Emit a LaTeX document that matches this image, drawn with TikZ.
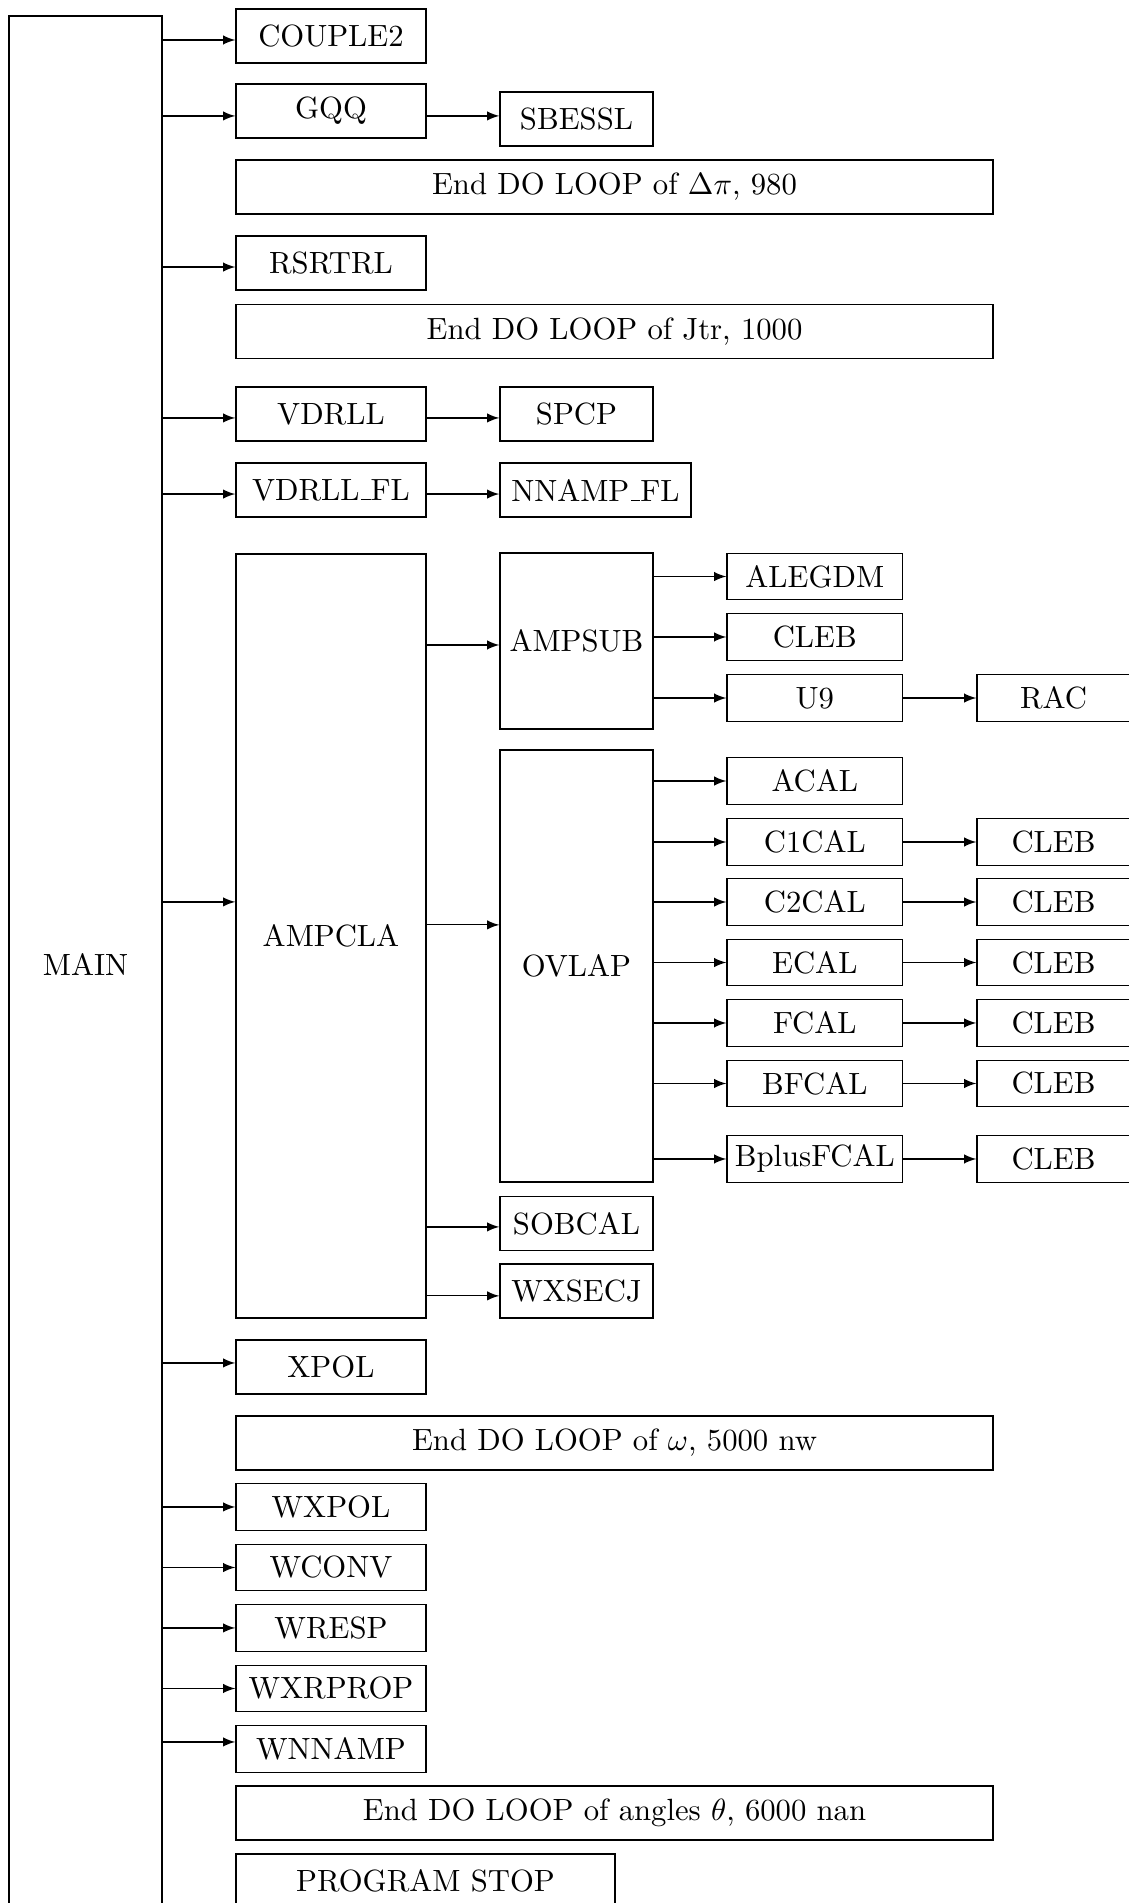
\documentclass[tikz,border=0pt]{standalone}
\newcommand\uscore{\leavevmode\kern.06em\vbox{\hrule width.3em}}
\begin{document}
\begin{tikzpicture}[
    box/.style={draw, inner sep=1pt, minimum height=0.618cm},
    lowbox/.style={draw, inner sep=1pt, minimum height=0.532cm},
    arr/.style={-latex}
  ]
    % Рамка
    \useasboundingbox (0,0) rectangle (12.925,-21.786);
    \clip (0,0) rectangle (12.925,-21.786);
    % Главная программа
    \node[box, minimum width=1.752cm, minimum height=21.728cm] (main) at (0.979,-11.047) {MAIN};
    % Второй столбец
    \node[box, minimum width=2.175cm] (couple) at (3.789,-0.412) {COUPLE2};
    \node[box, minimum width=2.175cm] (gqq) at (3.789,-1.271) {GQQ};
    \node[box, minimum width=8.666cm] (loopdpi) at (7.035,-2.141) {End DO LOOP of $\Delta\pi$, 980};
    \node[box, minimum width=2.175cm] (rsrtrl) at (3.789,-3.011) {RSRTRL};
    \node[box, minimum width=8.666cm] (loopjtr) at (7.035,-3.795) {End DO LOOP of Jtr, 1000};
    \node[box, minimum width=2.175cm] (vdrll) at (3.789,-4.739) {VDRLL};
    \node[box, minimum width=2.175cm] (vdrllfl) at (3.789,-5.610) {VDRLL\uscore FL};
    \node[box, minimum width=2.175cm, minimum height=8.746cm] (ampcla) at (3.789,-10.715) {AMPCLA};
    \node[box, minimum width=2.175cm] (xpol) at (3.789,-15.649) {XPOL};
    \node[box, minimum width=8.666cm] (loopw) at (7.035,-16.519) {End DO LOOP of $\omega$, 5000 nw};
    \foreach \n/\t/\y in {wxpol/WXPOL/-17.252, wconv/WCONV/-17.945, wresp/WRESP/-18.637,
                          wxrprop/WXRPROP/-19.330, wnnamp/WNNAMP/-20.023}
      \node[lowbox, minimum width=2.175cm] (\n) at (3.789,\y) {\t};
    \node[box, minimum width=8.666cm] (looptheta) at (7.035,-20.755) {End DO LOOP of angles $\theta$, 6000 nan};
    \node[box, minimum width=4.339cm] (stop) at (4.871,-21.534) {PROGRAM STOP};
    % Третий столбец
    \node[box, minimum width=1.752cm] (sbessl) at (6.600,-1.362) {SBESSL};
    \node[box, minimum width=1.752cm] (spcp) at (6.600,-4.739) {SPCP};
    \node[box, minimum width=2.187cm] (nnampfl) at (6.817,-5.610) {NNAMP\uscore FL};
    \node[box, minimum width=1.752cm, minimum height=2.015cm] (ampsub) at (6.600,-7.338) {AMPSUB};
    \node[box, minimum width=1.752cm, minimum height=4.946cm] (ovlap) at (6.600,-11.059) {OVLAP};
    \node[box, minimum width=1.752cm] (sobcal) at (6.600,-14.007) {SOBCAL};
    \node[box, minimum width=1.752cm] (wxsecj) at (6.600,-14.779) {WXSECJ};
    % Четвёртый и пятый столбцы
    \node[lowbox, minimum width=2.010cm] (alegdm) at (9.328,-6.600) {ALEGDM};
    \node[lowbox, minimum width=2.010cm] (clebsub) at (9.328,-7.292) {CLEB};
    \node[lowbox, minimum width=2.010cm] (u9) at (9.328,-7.991) {U9};
    \node[lowbox, minimum width=1.752cm] (rac) at (12.061,-7.991) {RAC};
    \node[lowbox, minimum width=2.010cm] (acal) at (9.328,-8.941) {ACAL};
    \foreach \n/\t/\y in {c1cal/C1CAL/-9.639, c2cal/C2CAL/-10.326, ecal/ECAL/-11.019,
                          fcal/FCAL/-11.711, bfcal/BFCAL/-12.404, bpfcal/BplusFCAL/-13.268} {
      \node[lowbox, minimum width=2.010cm] (\n) at (9.328,\y) {\t};
      \node[lowbox, minimum width=1.752cm] (cleb\n) at (12.061,\y) {CLEB};
      \draw[arr] (ovlap.east |- \n.west) -- (\n.west);
      \draw[arr] (\n.east) -- (cleb\n.west);
    }
    % Стрелки из MAIN
    \foreach \n/\s in {couple/-1.3, gqq/-1.6, rsrtrl/-1.3, vdrll/-1.3, vdrllfl/-1.3, ampcla/11.1,
                       xpol/1.3, wxpol/0, wconv/0, wresp/0, wxrprop/0, wnnamp/2.3} {
      \coordinate (tip) at ([yshift=\s pt]\n.west);
      \draw[arr] (main.east |- tip) -- (tip);
    }
    % Стрелки к третьему столбцу
    \foreach \a/\b/\s in {gqq/sbessl/1.0, vdrll/spcp/-1.3, vdrllfl/nnampfl/-1.3, ampcla/ampsub/-1.3,
                          ampcla/ovlap/13.4, ampcla/sobcal/-1.1, ampcla/wxsecj/-1.6} {
      \coordinate (tip) at ([yshift=\s pt]\b.west);
      \draw[arr] (\a.east |- tip) -- (tip);
    }
    % Стрелки к четвёртому столбцу
    \foreach \n in {alegdm, clebsub, u9}
      \draw[arr] (ampsub.east |- \n.west) -- (\n.west);
    \draw[arr] (ovlap.east |- acal.west) -- (acal.west);
    \draw[arr] (u9.east) -- (rac.west);
\end{tikzpicture}
\end{document}
